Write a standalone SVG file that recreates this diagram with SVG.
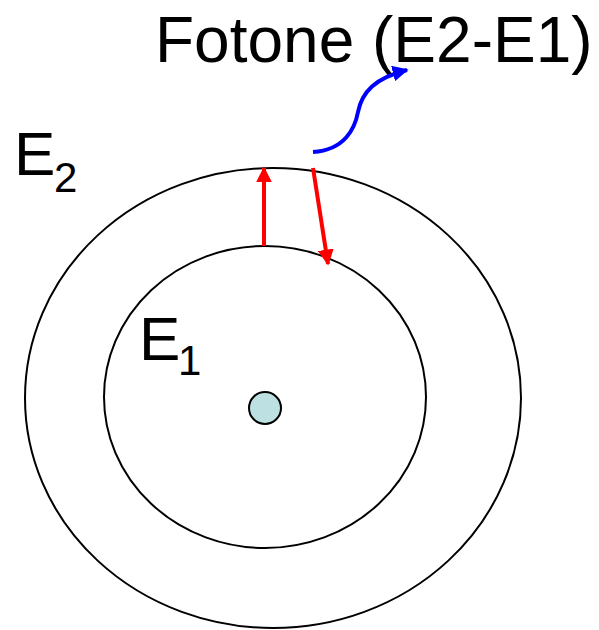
<svg xmlns="http://www.w3.org/2000/svg" width="599" height="630" viewBox="0 0 599 630">
<style>
.orbit{fill:none;stroke:#000;stroke-width:2}
.lbl{font-family:"Liberation Sans",Arial,sans-serif;fill:#000}
.red{stroke:#ff0000;stroke-width:4;fill:none}
</style>
<defs>
<marker id="ra" viewBox="0 0 10 10" refX="9" refY="5" markerWidth="4" markerHeight="4" orient="auto" markerUnits="strokeWidth"><path d="M0,0L10,5L0,10z" fill="#ff0000"/></marker>
<marker id="ba" viewBox="0 0 10 10" refX="9" refY="5" markerWidth="4" markerHeight="4" orient="auto" markerUnits="strokeWidth"><path d="M0,0L10,5L0,10z" fill="#0000ff"/></marker>
</defs>
<g id="outer-orbit"><ellipse class="orbit" cx="273" cy="398" rx="248" ry="230"/></g>
<g id="inner-orbit"><ellipse class="orbit" cx="265" cy="397" rx="161" ry="151"/></g>
<g id="nucleus"><circle cx="265" cy="408" r="16" fill="#bde0e3" stroke="#000" stroke-width="2"/></g>
<g id="label-e2"><text class="lbl" x="14" y="175" font-size="62">E</text><text class="lbl" x="54" y="192" font-size="42">2</text></g>
<g id="label-e1"><text class="lbl" x="139" y="360" font-size="62">E</text><text class="lbl" x="178" y="375" font-size="42">1</text></g>
<g id="label-photon"><text class="lbl" x="155" y="62" font-size="64">Fotone (E2-E1)</text></g>
<g id="connectors">
<line class="red" x1="264" y1="246" x2="264" y2="168" marker-end="url(#ra)"/>
<line class="red" x1="313" y1="168" x2="328" y2="264" marker-end="url(#ra)"/>
<path d="M313,152 C345,150 355,128 358,112 C362,92 375,78 407,70" fill="none" stroke="#0000ff" stroke-width="4" marker-end="url(#ba)"/>
</g>
</svg>
